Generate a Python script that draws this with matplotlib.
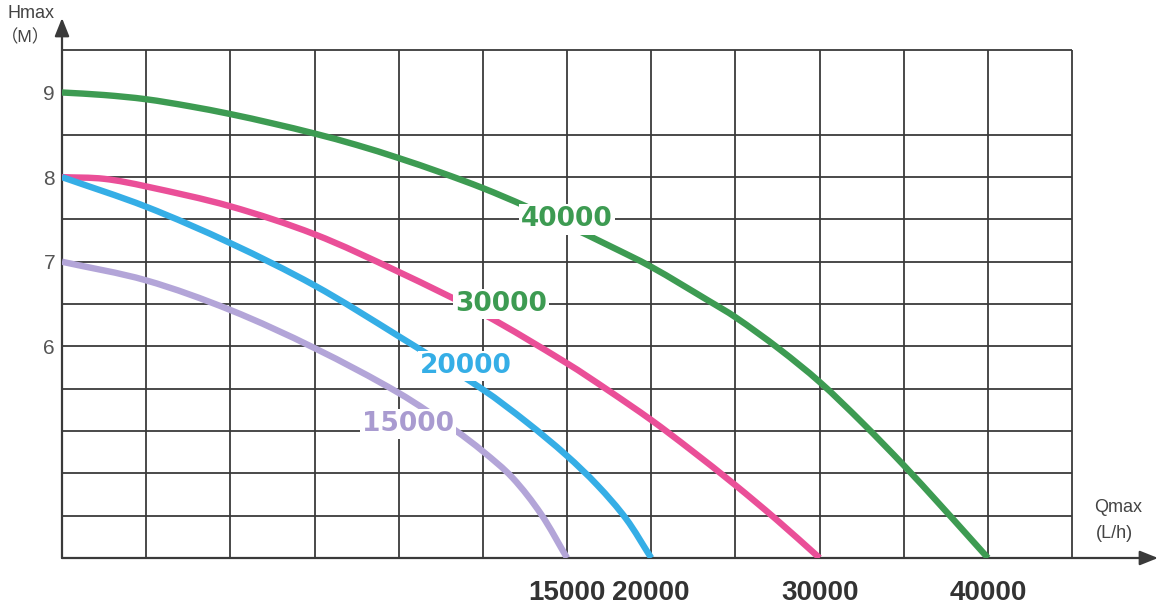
import numpy as np
import matplotlib
matplotlib.use("Agg")
import matplotlib.pyplot as plt
from matplotlib.path import Path
from matplotlib.patches import PathPatch

# pump curves, flow Q (L/h) vs head H (m)
green_q = [0, 1250, 2500, 3750, 5000, 6250, 7500, 8750, 10000, 11250, 12500, 13750, 15000,
           17500, 20000, 23400, 25000, 27600, 30000, 32500, 35000, 37150, 38600, 40000]
green_h = [9.0, 8.97, 8.92, 8.84, 8.745, 8.635, 8.515, 8.38, 8.225, 8.055, 7.87, 7.66, 7.43,
           7.19, 6.94, 6.54, 6.345, 5.97, 5.58, 5.105, 4.595, 4.13, 3.81, 3.5]

pink_q = [0, 1250, 2500, 5000, 7500, 10000, 12500, 15000, 17450, 20000, 22300, 25000, 27400, 30000]
pink_h = [8.0, 7.98, 7.89, 7.655, 7.325, 6.88, 6.385, 5.80, 5.48, 5.13, 4.785, 4.36, 3.96, 3.5]

blue_q = [0, 2500, 5000, 7500, 10000, 12500, 13800, 14975, 16800, 18500, 20000]
blue_h = [8.0, 7.65, 7.22, 6.72, 6.12, 5.49, 5.105, 4.715, 4.36, 3.965, 3.5]

purple_q = [0, 2500, 5000, 7500, 10000, 11675, 12500, 13375, 14225, 15000]
purple_h = [7.0, 6.78, 6.43, 5.98, 5.45, 5.01, 4.76, 4.45, 4.02, 3.5]

curve_names = ["40000", "30000", "20000", "15000"]

x_ticks = [15000, 20000, 30000, 40000]
x_tick_labels = ["15000", "20000", "30000", "40000"]
y_ticks = [6, 7, 8, 9]
y_tick_labels = ["6", "7", "8", "9"]

# the printed chart squeezes the flow axis: 2500 L/h per cell up to 15000, then 5000
Q_KNOTS = [-10000, 0, 15000, 20000, 60000]
COL_KNOTS = [-4, 0, 6, 7, 15]


def q_to_col(q):
    return np.interp(q, Q_KNOTS, COL_KNOTS)


def col_to_q(c):
    return np.interp(c, COL_KNOTS, Q_KNOTS)


def smooth_path(q, h):
    # cubic bezier through the read points, built in grid space so the bends stay smooth
    p = np.column_stack([q_to_col(np.asarray(q, float)), np.asarray(h, float)])
    t = np.concatenate([[0], np.cumsum(np.hypot(*np.diff(p, axis=0).T))])
    m = np.empty_like(p)
    m[0] = (p[1] - p[0]) / (t[1] - t[0])
    m[-1] = (p[-1] - p[-2]) / (t[-1] - t[-2])
    m[1:-1] = (p[2:] - p[:-2]) / (t[2:] - t[:-2])[:, None]
    verts = [p[0]]
    for i in range(len(p) - 1):
        dt = (t[i + 1] - t[i]) / 3
        verts += [p[i] + m[i] * dt, p[i + 1] - m[i + 1] * dt, p[i + 1]]
    verts = np.array(verts)
    verts[:, 0] = col_to_q(verts[:, 0])
    codes = [Path.MOVETO] + [Path.CURVE4] * (len(verts) - 1)
    return Path(verts, codes)


def plot_pump_curves():
    plt.rcParams.update({'font.family': ['Liberation Sans', 'DejaVu Sans']})

    fig = plt.figure(figsize=(11.63, 6.08), dpi=100)
    ax = fig.add_axes([62 / 1163, 50 / 608, 1096 / 1163, 540 / 608])
    ax.set_xscale('function', functions=(q_to_col, col_to_q))
    ax.set_xlim(0, col_to_q(13.02))
    ax.set_ylim(3.5, 9.88)
    for s in ax.spines.values():
        s.set_visible(False)

    grid_c = '#3a3a3a'
    h_bottom, h_top = 3.5, 9.5
    q_right = col_to_q(12)

    # grid
    ax.vlines(col_to_q(np.arange(1, 13)), h_bottom, h_top, colors=grid_c, lw=1.3, zorder=1)
    h_grid = [h for h in np.arange(4.0, 9.51, 0.5) if abs(h - 9.0) > 1e-6]
    ax.hlines(h_grid, 0, q_right, colors=grid_c, lw=1.3, zorder=1)

    # axes with arrows
    arrow = dict(arrowstyle='-|>,head_length=0.55,head_width=0.22', color=grid_c,
                 lw=1.6, mutation_scale=20, shrinkA=0, shrinkB=0)
    ax.annotate('', xy=(0, 9.88), xytext=(0, h_bottom), arrowprops=arrow, annotation_clip=False)
    ax.annotate('', xy=(col_to_q(13.02), h_bottom), xytext=(0, h_bottom), arrowprops=arrow,
                annotation_clip=False)

    curves = [(green_q, green_h, '#3d9b52'),
              (pink_q, pink_h, '#ea4f98'),
              (blue_q, blue_h, '#35aee6'),
              (purple_q, purple_h, '#b3a5d8')]
    for q, h, col in curves:
        ax.add_patch(PathPatch(smooth_path(q, h), transform=ax.transData, fill=False,
                               edgecolor=col, lw=4.6, capstyle='butt', joinstyle='round', zorder=3))

    # curve labels sit on white patches over the lines
    label_pos = [(15000, 7.5), (13050, 6.5), (12000, 5.77), (10280, 5.08)]
    label_col = ['#3d9b52', '#3d9b52', '#35aee6', '#a99bd0']
    for name, (lq, lh), col in zip(curve_names, label_pos, label_col):
        ax.text(lq, lh, name, color=col, fontsize=19, fontweight='heavy', family='DejaVu Sans',
                ha='center', va='center', zorder=5,
                bbox=dict(facecolor='white', edgecolor='none', pad=1.5))

    ax.set_xticks(x_ticks)
    ax.set_xticklabels(x_tick_labels, fontsize=20, fontweight='bold',
                       family=['Liberation Sans Narrow', 'Liberation Sans'], color='#333333')
    ax.set_yticks(y_ticks)
    ax.set_yticklabels(y_tick_labels, fontsize=15, color='#555555')
    ax.tick_params(axis='x', length=0, pad=16)
    ax.tick_params(axis='y', length=0, pad=5)
    ax.minorticks_off()

    fig.text(31 / 1163, 1 - 14 / 608, 'Hmax', fontsize=13, color='#444444', ha='center', va='center')
    fig.text(0.5 / 1163, 1 - 37 / 608, '（M）', fontsize=12.5, color='#444444', ha='left', va='center',
             family=['Liberation Sans', 'Noto Sans CJK SC'])
    fig.text(1118 / 1163, 1 - 508 / 608, 'Qmax', fontsize=13, color='#444444', ha='center', va='center')
    fig.text(1114 / 1163, 1 - 534 / 608, '(L/h)', fontsize=13, color='#444444', ha='center', va='center')

    fig.savefig('out.png', dpi=100, facecolor='white')


if __name__ == "__main__":
    plot_pump_curves()
